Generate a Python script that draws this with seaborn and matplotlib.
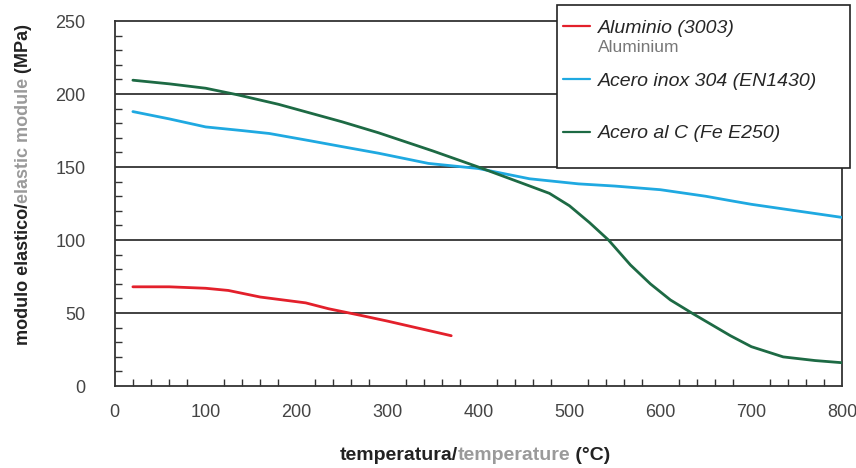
import matplotlib
matplotlib.use("Agg")
import matplotlib.pyplot as plt
from matplotlib.lines import Line2D
from matplotlib.patches import Rectangle
from matplotlib.ticker import MultipleLocator
import seaborn as sns
import pandas as pd

# data
alu_t = [20, 60, 100, 125, 160, 185, 210, 235, 270, 300, 335, 370]
alu_e = [68, 68, 67, 65.5, 61, 59, 57, 53, 48.5, 44.5, 39.5, 34.5]

inox_t = [20, 60, 100, 140, 170, 215, 250, 290, 345, 400, 456, 510, 550, 600, 650, 677, 700, 750, 800]
inox_e = [188, 183, 177.5, 175, 173, 168, 164, 159.5, 152.5, 149, 142, 138.5, 137, 134.5, 130, 127, 124.5, 120, 115.5]

carb_t = [20, 60, 100, 135, 180, 215, 250, 290, 350, 400, 450, 478, 500, 522, 543, 567, 589, 611, 636, 677, 700, 735, 770, 800]
carb_e = [209.5, 207, 204, 199.5, 193, 187, 181, 173.5, 161, 150, 138.5, 132, 123.5, 112, 100, 83, 70, 59, 49.5, 34.5, 27, 20, 17.5, 16]

names = ["Aluminio (3003)", "Acero inox 304 (EN1430)", "Acero al C (Fe E250)"]
colors = ["#e3202b", "#1fa9e1", "#1d6a44"]

df = pd.concat([
    pd.DataFrame({"T": alu_t, "E": alu_e, "material": names[0]}),
    pd.DataFrame({"T": inox_t, "E": inox_e, "material": names[1]}),
    pd.DataFrame({"T": carb_t, "E": carb_e, "material": names[2]}),
])

sns.set_style("white")
plt.rcParams["font.family"] = ["Liberation Sans", "DejaVu Sans"]

fig = plt.figure(figsize=(8.56, 4.68), dpi=100)
ax = fig.add_axes([0.134, 0.175, 0.850, 0.780])

dark = "#333333"
for y in [50, 100, 150, 200]:
    ax.axhline(y, color=dark, lw=1.3, zorder=1)

sns.lineplot(data=df, x="T", y="E", hue="material", palette=dict(zip(names, colors)),
             linewidth=2.0, legend=False, ax=ax, zorder=3)

ax.set_xlim(0, 800)
ax.set_ylim(0, 250)
ax.xaxis.set_major_locator(MultipleLocator(100))
ax.xaxis.set_minor_locator(MultipleLocator(20))
ax.yaxis.set_major_locator(MultipleLocator(50))
ax.yaxis.set_minor_locator(MultipleLocator(10))
ax.tick_params(axis="x", which="major", direction="inout", length=10, width=1.2,
               color=dark, pad=8, labelsize=13, labelcolor="#444444")
ax.tick_params(axis="y", which="major", direction="out", length=7, width=1.2,
               color=dark, pad=14, labelsize=13, labelcolor="#444444")
ax.tick_params(which="minor", direction="in", length=5, width=1.0, color=dark)
ax.tick_params(axis="x", which="minor", bottom=True)
ax.tick_params(axis="y", which="minor", left=True)
for s in ax.spines.values():
    s.set_color(dark)
    s.set_linewidth(1.3)
ax.set_xlabel("")
ax.set_ylabel("")


def multicolor_text(parts, x, y, vertical=False, **kw):
    renderer = fig.canvas.get_renderer()
    texts = []
    sizes = []
    for s, c in parts:
        t = fig.text(0, 0, s, color=c, rotation=90 if vertical else 0,
                     ha="left" if not vertical else "center",
                     va="center" if not vertical else "bottom", **kw)
        bb = t.get_window_extent(renderer)
        texts.append(t)
        sizes.append(bb.height if vertical else bb.width)
    W, H = fig.bbox.width, fig.bbox.height
    total = sum(sizes)
    pos = -total / 2
    for t, sz in zip(texts, sizes):
        if vertical:
            t.set_position((x, y + pos / H))
        else:
            t.set_position((x + pos / W, y))
        pos += sz


multicolor_text([("temperatura/", "#222222"), ("temperature", "#9a9a9a"), (" (°C)", "#222222")],
                0.555, 0.026, fontsize=14, fontweight="bold")
multicolor_text([("modulo elastico/", "#222222"), ("elastic module", "#9a9a9a"), (" (MPa)", "#222222")],
                0.027, 0.605, vertical=True, fontsize=13, fontweight="bold")

# legend box (drawn separately so its size matches the reference)
fig.patches.append(Rectangle((0.651, 0.641), 0.342, 0.348, transform=fig.transFigure,
                             facecolor="white", edgecolor="#222222", lw=1.2, zorder=4))
handles = [Line2D([], [], color=c, lw=1.6) for c in colors]
leg = fig.legend(handles, names, loc="upper left", bbox_to_anchor=(0.658, 0.958),
                 frameon=False, prop={"family": "Liberation Sans", "style": "italic", "size": 14},
                 handlelength=1.4, handletextpad=0.4, labelspacing=1.8,
                 borderpad=0, borderaxespad=0)
leg.set_zorder(6)
fig.text(0.699, 0.898, "Aluminium", color="#777777", fontsize=12.5, va="center", zorder=10)

fig.savefig("out.png", dpi=100)
